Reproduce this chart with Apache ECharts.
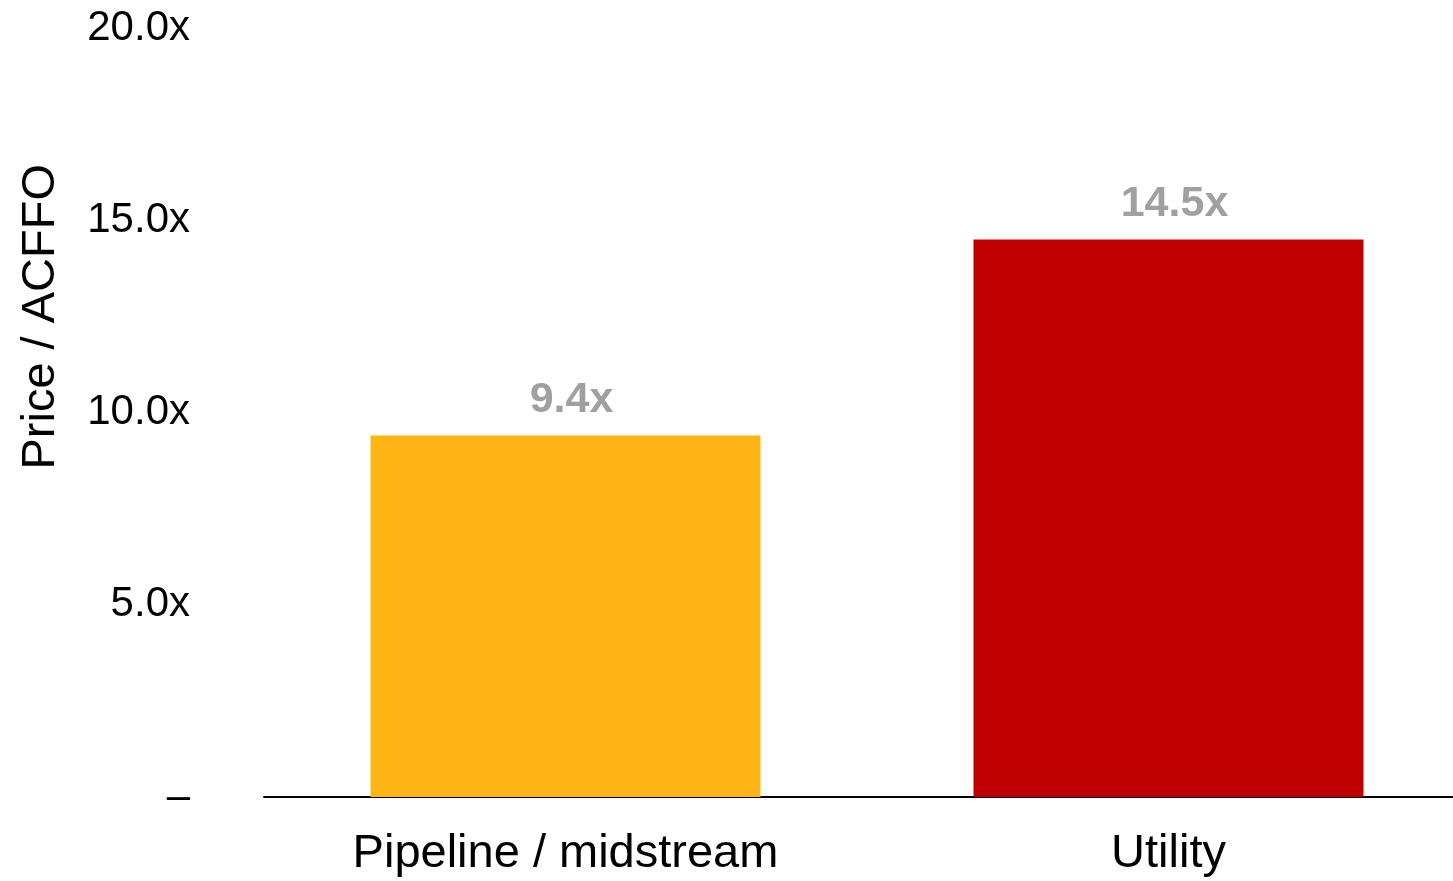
<!DOCTYPE html>
<html>
<head>
<meta charset="utf-8">
<script src="https://cdn.jsdelivr.net/npm/echarts@6/dist/echarts.min.js"></script>
<style>
html,body{margin:0;padding:0;background:#fff;overflow:hidden;width:1453px;height:881px;}
#chart{width:1476px;height:881px;}
</style>
</head>
<body>
<div id="chart"></div>
<script>
const categories = ['Pipeline / midstream', 'Utility'];
const values = [9.4, 14.5];
const barColors = ['#FDB515', '#C00000'];
const yTickValues = [0, 5, 10, 15, 20];
const yTickLabels = ['–', '5.0x', '10.0x', '15.0x', '20.0x'];
const yAxisTitle = 'Price / ACFFO';

const FONT = 'Liberation Sans, Arial, sans-serif';
const chart = echarts.init(document.getElementById('chart'));
chart.setOption({
  animation: false,
  backgroundColor: '#ffffff',
  grid: { left: 264, top: 28, width: 1206, height: 769, containLabel: false },
  xAxis: {
    type: 'category',
    data: categories,
    axisLine: { show: true, lineStyle: { color: '#000', width: 2 } },
    axisTick: { show: false },
    axisLabel: { color: '#000', fontSize: 47, fontFamily: FONT, margin: 34 }
  },
  yAxis: {
    type: 'value',
    min: 0, max: 20, interval: 5,
    axisLine: { show: false },
    axisTick: { show: false },
    splitLine: { show: false },
    axisLabel: {
      color: '#000', fontSize: 42, fontFamily: FONT, margin: 74,
      formatter: function (v) {
        const i = yTickValues.indexOf(v);
        return i >= 0 ? yTickLabels[i] : '';
      }
    }
  },
  graphic: [{
    type: 'text',
    left: 18, top: 164,
    rotation: Math.PI / 2,
    style: { text: yAxisTitle, fill: '#000', font: '47px ' + FONT }
  }],
  series: [{
    type: 'bar',
    barWidth: 390,
    data: values.map((v, i) => ({ value: v, itemStyle: { color: barColors[i] } })),
    label: {
      show: true, position: 'top', distance: 14, offset: [6, 0],
      color: '#A0A0A0', fontSize: 43, fontWeight: 'bold', fontFamily: FONT,
      formatter: p => p.value.toFixed(1) + 'x'
    }
  }]
});
</script>
</body>
</html>
